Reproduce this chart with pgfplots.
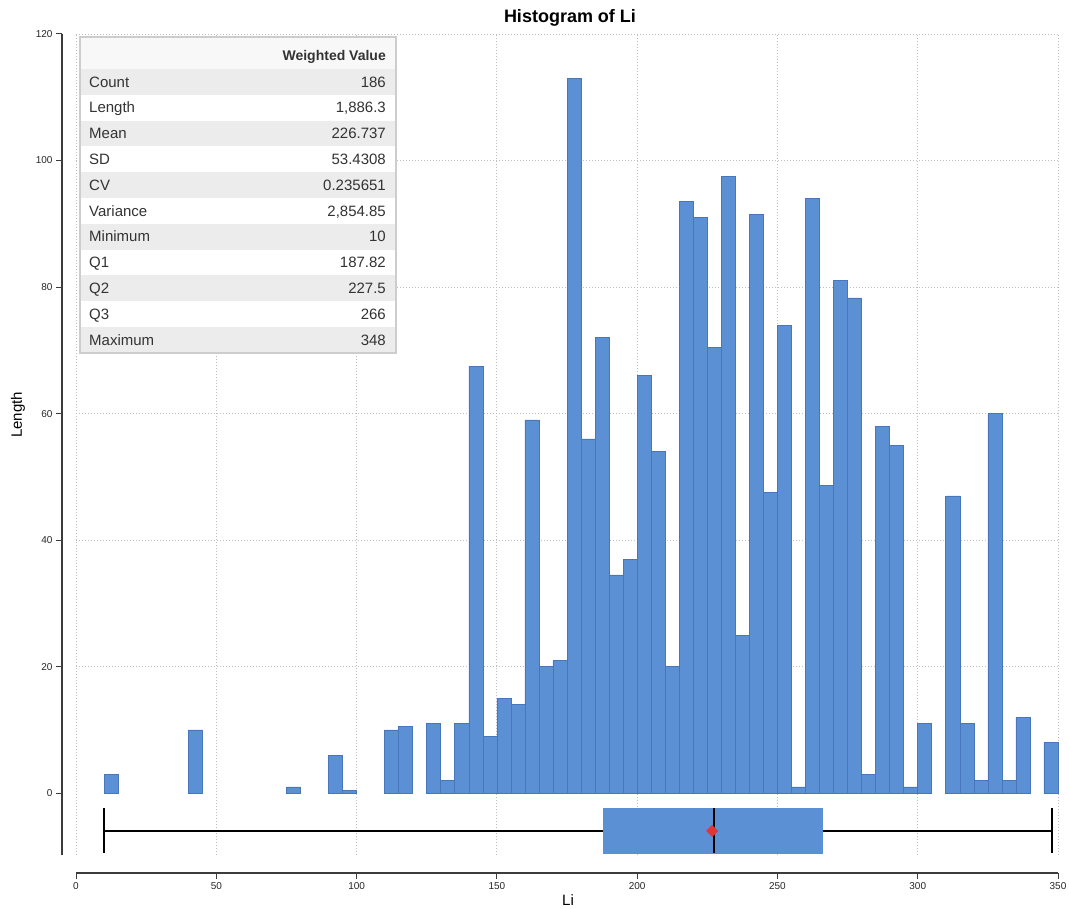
\documentclass[border=0pt]{standalone}
\usepackage{pgfplots}
\pgfplotsset{compat=1.18}
\usepackage{fontspec}
\setmainfont{Liberation Sans}

\definecolor{barblue}{RGB}{91,144,213}
\definecolor{baredge}{RGB}{72,118,186}
\definecolor{rowgrey}{RGB}{236,236,236}
\definecolor{headgrey}{RGB}{248,248,248}
\definecolor{tabborder}{RGB}{205,205,205}
\definecolor{gridgrey}{RGB}{190,190,190}
\definecolor{spine}{RGB}{60,60,60}
\definecolor{meanred}{RGB}{228,52,52}

% one row of the statistics box: index, label, value
\newcommand{\statrow}[3]{%
  \ifodd#1\else\fill[rowgrey] (80pt,{840pt-#1*25.8pt}) rectangle (396pt,{840pt-(#1+1)*25.8pt});\fi
  \node[anchor=base west,inner sep=0pt] at (89pt,{840pt-(#1+0.5)*25.8pt-5.3pt}) {#2};
  \node[anchor=base east,inner sep=0pt] at (386pt,{840pt-(#1+0.5)*25.8pt-5.3pt}) {#3};}

\begin{document}
\begin{tikzpicture}
\useasboundingbox (0,0) rectangle (1069pt,909pt);
\begin{axis}[
    at={(62pt,36pt)}, anchor=south west,
    scale only axis, width=996pt, height=839pt,
    xmin=-5, xmax=350, ymin=-12.6, ymax=120,
    axis lines*=left,
    axis line style={draw=none},
    xtick={0,50,...,350}, ytick={0,20,...,120},
    tick align=outside, major tick length=6pt,
    tick style={line width=1pt, color=spine},
    ticklabel style={font=\fontsize{10}{11}\selectfont, color=black!85},
    /pgf/number format/assume math mode=true,
    clip=false,
]
% grid
\pgfplotsinvokeforeach{20,40,...,120}{
  \draw[gridgrey, line width=0.8pt, dash pattern=on 1pt off 2pt] (axis cs:0,#1) -- (axis cs:350,#1);
}
\pgfplotsinvokeforeach{0,50,...,350}{
  \draw[gridgrey, line width=0.8pt, dash pattern=on 1pt off 2pt] (axis cs:#1,-9.8) -- (axis cs:#1,120);
}
% spines
\draw[spine, line width=2pt] (axis cs:-5,-9.8) -- (axis cs:-5,120);
\draw[spine, line width=2pt] (axis cs:0,-12.6) -- (axis cs:350,-12.6);

% histogram, bins of width 5 (centres)
\addplot[ybar, bar width=5, bar shift=0pt, fill=barblue, draw=baredge, line width=0.6pt]
coordinates {
(12.5,3) (42.5,10) (77.5,1) (92.5,6) (97.5,0.5)
(112.5,10) (117.5,10.6) (127.5,11.1) (132.5,2) (137.5,11.1)
(142.5,67.5) (147.5,9) (152.5,15) (157.5,14) (162.5,59)
(167.5,20) (172.5,21) (177.5,113) (182.5,56) (187.5,72)
(192.5,34.5) (197.5,37) (202.5,66) (207.5,54) (212.5,20)
(217.5,93.5) (222.5,91) (227.5,70.5) (232.5,97.5) (237.5,25)
(242.5,91.5) (247.5,47.5) (252.5,74) (257.5,1) (262.5,94)
(267.5,48.6) (272.5,81) (277.5,78.3) (282.5,3) (287.5,58)
(292.5,55) (297.5,1) (302.5,11) (312.5,47) (317.5,11)
(322.5,2) (327.5,60) (332.5,2) (337.5,12) (347.5,8)
};

% box plot: min 10, Q1 187.82, median 227.5, Q3 266, max 348, mean 226.737
\addplot[black, line width=1.6pt] coordinates {(10,-5.95) (348,-5.95)};
\addplot[black, line width=2pt] coordinates {(10,-2.4) (10,-9.5)};
\addplot[black, line width=2pt] coordinates {(348,-2.4) (348,-9.5)};
\addplot[fill=barblue, draw=barblue, line width=0.6pt] coordinates {(187.82,-2.4) (266,-2.4) (266,-9.5) (187.82,-9.5)} -- cycle;
\addplot[black, line width=1.8pt] coordinates {(227.5,-2.4) (227.5,-9.5)};
\addplot[only marks, mark=square*, mark size=4pt, mark options={rotate=45, fill=meanred, draw=meanred}] coordinates {(226.737,-5.95)};
\end{axis}

% statistics table
\fill[white] (80pt,556pt) rectangle (396pt,872pt);
\fill[headgrey] (80pt,840pt) rectangle (396pt,872pt);
\begin{scope}[font=\fontsize{15}{17}\selectfont, text=black!80]
\node[anchor=base east,inner sep=0pt,font=\fontsize{14}{16}\selectfont\bfseries] at (386pt,848pt) {Weighted Value};
\statrow{0}{Count}{186}
\statrow{1}{Length}{1,886.3}
\statrow{2}{Mean}{226.737}
\statrow{3}{SD}{53.4308}
\statrow{4}{CV}{0.235651}
\statrow{5}{Variance}{2,854.85}
\statrow{6}{Minimum}{10}
\statrow{7}{Q1}{187.82}
\statrow{8}{Q2}{227.5}
\statrow{9}{Q3}{266}
\statrow{10}{Maximum}{348}
\end{scope}
\draw[tabborder, line width=1.2pt] (80pt,556pt) rectangle (396pt,872pt);

% titles
\node[font=\fontsize{18}{20}\selectfont\bfseries] at (570pt,891pt) {Histogram of Li};
\node[font=\fontsize{15}{17}\selectfont] at (568pt,9pt) {Li};
\node[font=\fontsize{15}{17}\selectfont, rotate=90] at (18pt,494pt) {Length};
\end{tikzpicture}
\end{document}
